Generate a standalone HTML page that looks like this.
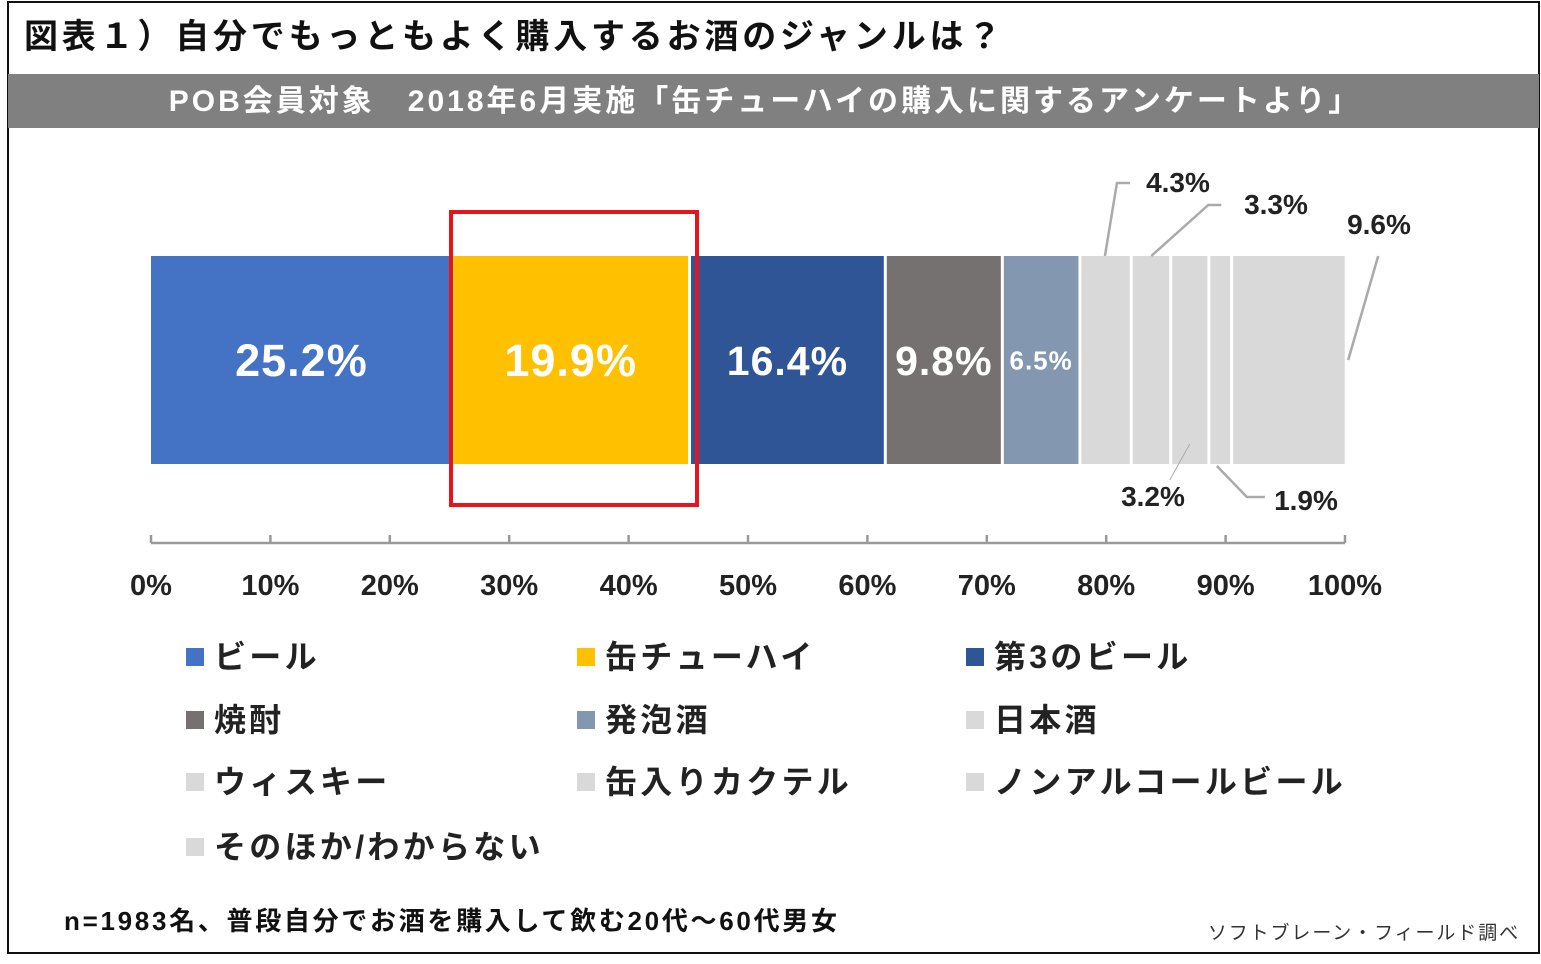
<!DOCTYPE html>
<html><head><meta charset="utf-8"><style>
body{margin:0;background:#fff;}
svg text{font-family:"Liberation Sans","Noto Sans CJK JP",sans-serif;}
</style></head><body>
<svg id="chart" width="1541" height="959" viewBox="0 0 1541 959" xmlns="http://www.w3.org/2000/svg">
<rect x="8" y="2" width="1531" height="951" fill="#fff" stroke="#111" stroke-width="2"/>
<text x="24" y="48" font-size="34" font-weight="bold" fill="#111" letter-spacing="3.8">図表１）自分でもっともよく購入するお酒のジャンルは？</text>
<rect x="8" y="74" width="1531" height="54" fill="#808080"/>
<text x="765" y="111" font-size="30" font-weight="bold" fill="#fff" text-anchor="middle" letter-spacing="3">POB会員対象　2018年6月実施「缶チューハイの購入に関するアンケートより」</text>
<g id="bars"></g>
<g id="axis"></g>
<g id="legend"></g>
<rect x="451" y="212" width="246" height="293" fill="none" stroke="#e8141b" stroke-width="4"/>
<text x="64" y="930" font-size="26" font-weight="bold" fill="#111" letter-spacing="2.7">n=1983名、普段自分でお酒を購入して飲む20代～60代男女</text>
<text x="1520" y="939" font-size="19" fill="#333" text-anchor="end" letter-spacing="1.9">ソフトブレーン・フィールド調べ</text>
</svg>
<script>
const categories=["ビール","缶チューハイ","第3のビール","焼酎","発泡酒","日本酒","ウィスキー","缶入りカクテル","ノンアルコールビール","そのほか/わからない"];
const values=[25.2,19.9,16.4,9.8,6.5,4.3,3.3,3.2,1.9,9.6];
const colors=["#4472C4","#FFC000","#2F5597","#767171","#8497B0","#D9D9D9","#D9D9D9","#D9D9D9","#D9D9D9","#D9D9D9"];
const ticks=[0,10,20,30,40,50,60,70,80,90,100];
const NS="http://www.w3.org/2000/svg";
const x0=151,x1=1345,yTop=256,yBot=464;
const xs=v=>x0+(x1-x0)*v/100;
function mk(tag,attrs,parent){const e=document.createElementNS(NS,tag);for(const k in attrs)e.setAttribute(k,attrs[k]);parent.appendChild(e);return e;}
const bars=document.getElementById('bars');
let cum=0;
const inSizes=[45,45,41,41,26];
const outer=[{lx:1178,ly:192,top:true},{lx:1276,ly:214,top:true},{lx:1153,ly:506,top:false},{lx:1306,ly:510,top:false},{lx:1379,ly:234,top:true}];
values.forEach((v,i)=>{
  const a=xs(cum),b=xs(cum+v);cum+=v;
  const r=mk('rect',{x:a+(i?1.5:0),y:yTop,width:Math.max(0,b-a-(i?3:1.5)),height:yBot-yTop,fill:colors[i]},bars);
  
  
  const c=(a+b)/2;
  if(i<5){
    const t=mk('text',{x:c,y:360+inSizes[i]*0.36,'font-size':inSizes[i],'font-weight':'bold',fill:'#fff','text-anchor':'middle','letter-spacing':1},bars);
    t.textContent=v.toFixed(1)+'%';
    
    
  } else {
    const o=outer[i-5];
    const t=mk('text',{x:o.lx,y:o.ly,'font-size':28,'font-weight':'bold',fill:'#222','text-anchor':'middle'},bars);
    t.textContent=v.toFixed(1)+'%';
    
    
    let pts;
    if(i===5) pts=`${a+25},${yTop} ${a+37},183 ${a+50},183`;
    else if(i===6) pts=`${a+20},${yTop} ${a+77},205 ${a+90},205`;
    else if(i===7) pts=`${c},444 ${c-20},480`;
    else if(i===8) pts=`${a+8},466 ${a+38},497 ${a+56},497`;
    else pts=`${b+2},360 ${b+32},256`;
    const l=mk('polyline',{points:pts,fill:'none',stroke:'#aaa','stroke-width':i===7?1:2.5},bars);
    
    
  }
});
const axis=document.getElementById('axis');
const al=mk('line',{x1:x0,x2:x1,y1:543,y2:543,stroke:'#999','stroke-width':2.5},axis);


ticks.forEach(t=>{
  const x=xs(t);
  const tl=mk('line',{x1:x,x2:x,y1:535,y2:543,stroke:'#999','stroke-width':2.5},axis);
  
  
  const tx=mk('text',{x:x,y:595,'font-size':29,'font-weight':'bold',fill:'#222','text-anchor':'middle'},axis);
  tx.textContent=t+'%';
  
  
});
const lg=document.getElementById('legend');
const colX=[186,577,966],rowY=[656,719,781,846];
categories.forEach((c,i)=>{
  const cx=colX[i%3],cy=rowY[Math.floor(i/3)];
  const s=mk('rect',{x:cx,y:cy-8,width:18,height:18,fill:colors[i]},lg);
  
  
  const t=mk('text',{x:cx+28,y:cy+12,'font-size':32,'font-weight':'bold',fill:'#222','letter-spacing':3.3},lg);
  t.textContent=c;
  
  
});
</script>
</body></html>
